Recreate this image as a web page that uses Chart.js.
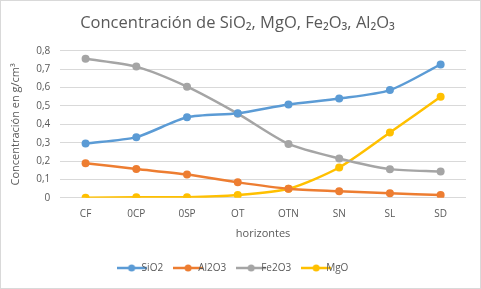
<!DOCTYPE html>
<html>
<head>
<meta charset="utf-8">
<script src="https://cdn.jsdelivr.net/npm/chart.js@4"></script>
<style>
  html, body { margin: 0; padding: 0; background: #fff; }
  #wrap { position: relative; width: 479px; height: 287px; border: 1px solid #d9d9d9; }
</style>
</head>
<body>
<div id="wrap"><canvas id="chart"></canvas></div>
<script>
(function () {
    'use strict';

    var horizontes = ['CF', '0CP', '0SP', 'OT', 'OTN', 'SN', 'SL', 'SD'];
    var sio2 = [0.295, 0.33, 0.438, 0.46, 0.508, 0.54, 0.586, 0.726];
    var al2o3 = [0.188, 0.157, 0.127, 0.084, 0.049, 0.036, 0.025, 0.015];
    var fe2o3 = [0.757, 0.714, 0.605, 0.458, 0.293, 0.214, 0.156, 0.143];
    var mgo = [0, 0.003, 0.003, 0.015, 0.049, 0.165, 0.355, 0.55];
    var yTicks = [0, 0.1, 0.2, 0.3, 0.4, 0.5, 0.6, 0.7, 0.8];

    var TXT = '#595959';
    var FONT = '"Open Sans", "Liberation Sans", sans-serif';

    function series(label, data, color) {
        return {
            label: label,
            data: data,
            borderColor: color,
            backgroundColor: color,
            borderWidth: 2.5,
            pointRadius: 4,
            pointHoverRadius: 4,
            pointBorderWidth: 0,
            tension: 0.25
        };
    }

    function legendIcon(color) {
        var c = document.createElement('canvas');
        c.width = 30;
        c.height = 10;
        var g = c.getContext('2d');
        g.strokeStyle = color;
        g.lineWidth = 2.5;
        g.beginPath();
        g.moveTo(0, 5);
        g.lineTo(30, 5);
        g.stroke();
        g.fillStyle = color;
        g.beginPath();
        g.arc(15, 5, 3.5, 0, Math.PI * 2);
        g.fill();
        return c;
    }

    new Chart(document.getElementById('chart'), {
        type: 'line',
        data: {
            labels: horizontes,
            datasets: [
                series('SiO2', sio2, '#5b9bd5'),
                series('Al2O3', al2o3, '#ed7d31'),
                series('Fe2O3', fe2o3, '#a5a5a5'),
                series('MgO', mgo, '#ffc000')
            ]
        },
        options: {
            responsive: true,
            maintainAspectRatio: false,
            animation: false,
            layout: { padding: { left: 8, right: 14, top: 4, bottom: 5 } },
            plugins: {
                title: {
                    display: true,
                    text: 'Concentración de SiO\u2082, MgO, Fe\u2082O\u2083, Al\u2082O\u2083',
                    color: TXT,
                    font: { family: FONT, size: 16.5, weight: 'normal' },
                    padding: { top: 8, bottom: 18 }
                },
                legend: {
                    position: 'bottom',
                    labels: {
                        color: TXT,
                        font: { family: FONT, size: 10 },
                        usePointStyle: true,
                        boxWidth: 30,
                        boxHeight: 10,
                        padding: 20,
                        generateLabels: function (chart) {
                            return chart.data.datasets.map(function (ds, i) {
                                return {
                                    text: ds.label,
                                    pointStyle: legendIcon(ds.borderColor),
                                    fillStyle: ds.borderColor,
                                    strokeStyle: ds.borderColor,
                                    lineWidth: 0,
                                    fontColor: TXT,
                                    datasetIndex: i,
                                    hidden: false
                                };
                            });
                        }
                    }
                },
                tooltip: { enabled: false }
            },
            scales: {
                x: {
                    offset: true,
                    grid: { display: false },
                    border: { display: false },
                    ticks: { color: TXT, font: { family: FONT, size: 10 }, padding: 2 },
                    title: {
                        display: true,
                        text: 'horizontes',
                        color: TXT,
                        font: { family: FONT, size: 11 },
                        padding: { top: 5, bottom: 3 }
                    }
                },
                y: {
                    min: 0,
                    max: 0.8,
                    afterBuildTicks: function (axis) {
                        axis.ticks = yTicks.map(function (v) { return { value: v }; });
                    },
                    grid: { color: '#d9d9d9', lineWidth: 1, drawTicks: false },
                    border: { display: false },
                    ticks: {
                        color: TXT,
                        font: { family: FONT, size: 10 },
                        padding: 10,
                        callback: function (v) {
                            return v === 0 ? '0' : String(Number(v).toFixed(1)).replace('.', ',');
                        }
                    },
                    title: {
                        display: true,
                        text: 'Concentración en g/cm\u00b3',
                        color: TXT,
                        font: { family: FONT, size: 11 },
                        padding: { top: 0, bottom: 4 }
                    }
                }
            }
        }
    });
})();
</script>
</body>
</html>
